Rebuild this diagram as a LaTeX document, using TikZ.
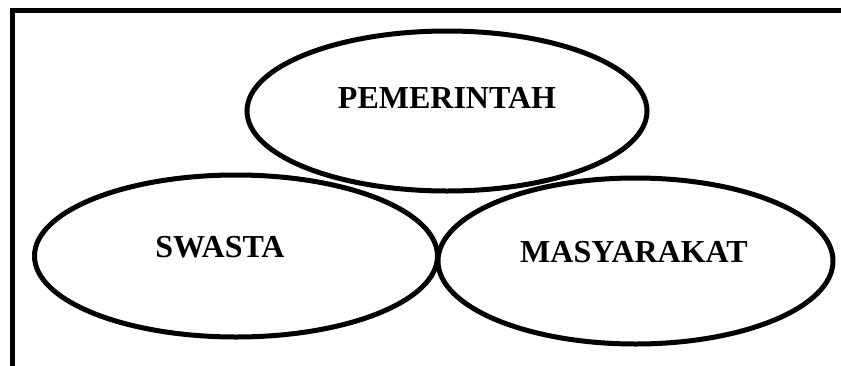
\documentclass[tikz,border=0pt]{standalone}
\usepackage{fontspec}
\setmainfont{Liberation Serif}
\usetikzlibrary{shapes.geometric}
\begin{document}
\begin{tikzpicture}[x=1pt,y=-1pt,
  bubble/.style={ellipse,draw=black,line width=5pt,inner sep=0pt,outer sep=0pt},
  lbl/.style={font=\bfseries\fontsize{32}{36}\selectfont,anchor=base,inner sep=0pt},
  frame/.style={line width=5pt,line cap=rect}]
\useasboundingbox (0,0) rectangle (841,365);
\fill[white] (0,0) rectangle (841,365);
\coordinate (tl) at (12.5,10.5);
\coordinate (tr) at (845,10.5);
\coordinate (bl) at (12.5,370);
\draw[frame] (bl) -- (tl) -- (tr);
\node[bubble,minimum width=400pt,minimum height=160pt] (pem) at (447,111) {};
\node[bubble,minimum width=403pt,minimum height=162pt] (swa) at (236,256) {};
\node[bubble,minimum width=395pt,minimum height=166pt] (mas) at (635.5,261) {};
\node[lbl] (tpem) at (447,108) {PEMERINTAH};
\node[lbl] (tswa) at (220,257) {SWASTA};
\node[lbl] (tmas) at (634,262) {MASYARAKAT};
\end{tikzpicture}
\end{document}
